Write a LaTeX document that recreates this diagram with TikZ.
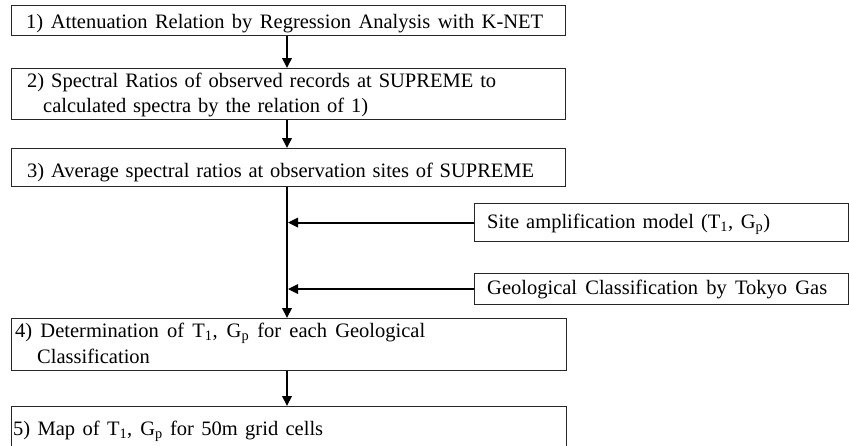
\documentclass[tikz,border=0pt]{standalone}
\usepackage{fontspec}
\setmainfont{Liberation Serif}
\usetikzlibrary{arrows.meta}
\begin{document}
\begin{tikzpicture}[x=1pt,y=-1pt,
  stepbox/.style={draw=black!85, line width=1.1pt, inner sep=0pt, anchor=north west},
  txt/.style={inner sep=0pt, anchor=base west, font=\fontsize{20.5}{24}\selectfont},
  arr/.style={line width=2pt, -{Triangle[length=10pt,width=9.5pt]}}]
\useasboundingbox (0,0) rectangle (849,445);
\coordinate (spine) at (287,0);
% process boxes (the last one runs past the lower page edge)
\node[stepbox, minimum width=554pt, minimum height=30pt] (b1) at (11,5) {};
\node[stepbox, minimum width=554pt, minimum height=51pt] (b2) at (11,68) {};
\node[stepbox, minimum width=554pt, minimum height=38pt] (b3) at (11,148) {};
\node[stepbox, minimum width=374pt, minimum height=38pt] (site) at (474,203) {};
\node[stepbox, minimum width=374pt, minimum height=31pt] (geo) at (474,273) {};
\node[stepbox, minimum width=555pt, minimum height=52pt] (b4) at (11,318) {};
\node[stepbox, minimum width=555pt, minimum height=48pt] (b5) at (11,406) {};
% box texts
\node[txt] (t1) at (26,28.5) {\makebox[517pt][s]{1) Attenuation Relation by Regression Analysis with K-NET}};
\node[txt] (t2a) at (27,87) {\makebox[469pt][s]{2) Spectral Ratios of observed records at SUPREME to}};
\node[txt] (t2b) at (43,112) {\makebox[325pt][s]{calculated spectra by the relation of 1)}};
\node[txt] (t3) at (27,177) {\makebox[507pt][s]{3) Average spectral ratios at observation sites of SUPREME}};
\node[txt] (ts) at (487,228) {\makebox[283pt][s]{Site amplification model (T\textsubscript{1}, G\textsubscript{p})}};
\node[txt] (tg) at (487,294.5) {\makebox[340pt][s]{Geological Classification by Tokyo Gas}};
\node[txt] (t4a) at (15,337) {\makebox[410pt][s]{4) Determination of T\textsubscript{1}, G\textsubscript{p} for each Geological}};
\node[txt] (t4b) at (37,363) {Classification};
\node[txt] (t5) at (13,435) {\makebox[310pt][s]{5) Map of T\textsubscript{1}, G\textsubscript{p} for 50m grid cells}};
% connectors
\draw[arr] (b1.south -| spine) -- (b2.north -| spine);
\draw[arr] (b2.south -| spine) -- (b3.north -| spine);
\draw[arr] (b3.south -| spine) -- (b4.north -| spine);
\draw[arr] (b4.south -| spine) -- (b5.north -| spine);
\draw[arr] (site.west) -- ([xshift=1pt]site.west -| spine);
\draw[arr] (geo.west) -- ([xshift=1pt]geo.west -| spine);
\end{tikzpicture}
\end{document}
